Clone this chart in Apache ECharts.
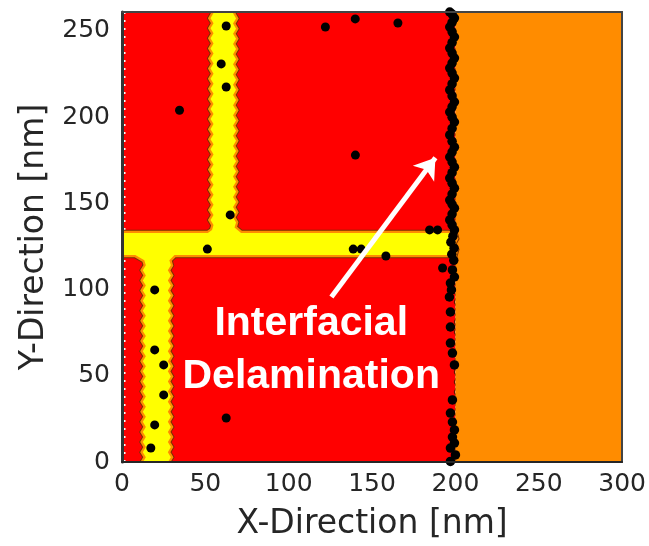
<!DOCTYPE html>
<html><head><meta charset="utf-8">
<script src="https://cdn.jsdelivr.net/npm/echarts@6/dist/echarts.min.js"></script>
<style>html,body{margin:0;padding:0;background:#fff}#c{width:649px;height:546px}</style>
</head><body><div id="c"></div>
<script>
// ---- data ----
const xTicks = [0, 50, 100, 150, 200, 250, 300];
const yTicks = [0, 50, 100, 150, 200, 250];
const xRange = [0, 300];
const yRange = [0, 261];
// phase boundaries along x: film (red) from 0 to 200, substrate (orange) from 200 to 300
const phaseBounds = [0, 200, 300];
const phaseColors = ['#ff0000', '#ff8c00'];
// outline of the grain-boundary (yellow) phase, data coordinates
const grainBoundaryOutline = [
  [54, 275], [54, 134.5], [51.5, 132.8], [-6, 132.8], [-6, 120], [8, 120], [13.4, 117],
  [13.4, -6], [28.4, -6], [28.4, 117], [31.5, 120], [199.5, 120], [199.5, 132.8],
  [71.4, 132.8], [67.5, 136], [67.5, 275]
];
// isolated defect atoms
const defectX = [62.5, 59.5, 62.5, 34.5, 64.9, 51.2, 19.6, 19.6, 25.0, 25.0, 19.6, 17.3, 62.5,
  122.0, 139.9, 165.5, 140.0, 138.7, 143.5, 158.3, 184.5, 189.3, 192.3];
const defectY = [252.9, 230.9, 217.5, 204.0, 143.3, 123.5, 99.8, 65.0, 56.3, 38.9, 21.5, 8.1, 25.5,
  252.3, 257.0, 254.6, 178.0, 123.5, 123.5, 119.5, 134.6, 134.6, 112.5];
// interface atoms along x = 200
const interfaceX = [196.6, 198, 199.4, 198, 196.6, 198, 199.4, 198, 196.6, 198, 199.4, 198, 196.6, 198,
  199.4, 198, 196.6, 198, 199.4, 198, 196.6, 198, 199.4, 198, 196.6, 198, 199.4, 198, 196.6, 198, 199.4,
  198, 196.6, 198, 199.4, 198, 196.6, 198, 199.4, 198, 196.6, 198, 199.4, 198.5, 197.3, 199.2, 197.8,
  199.0, 198.2, 199.4, 197.0, 197.6, 196.4, 197.0, 197.0, 197.0, 198.2, 199.4, 198.2, 197.0, 198.2,
  199.4, 198.2, 199.4, 197.0, 200.0, 197.0];
const interfaceY = [261, 259.8, 257.5, 255, 252.3, 249.5, 246.5, 243.3, 240.1, 237.2, 234.3, 231.4, 228.5,
  225.6, 222.7, 219.3, 215.8, 212.3, 208.8, 206, 203, 200, 197.2, 193.5, 189.7, 186, 182.6, 179.8, 176.9,
  174, 171, 167.8, 164.7, 161.7, 158.8, 155.4, 151.9, 149.5, 147.2, 143.8, 140.4, 137.5, 134.6, 131,
  127.5, 124, 120.5, 117, 111.4, 107.3, 103.8, 99.8, 95.7, 87.0, 78.3, 69.0, 63.2, 56.3, 36.0, 28.4,
  23.2, 18.6, 14.5, 11.0, 8.1, 4.1, 0.3];
const arrowLine = [[125.6, 95.7], [188.0, 176.5]];
const annotationText = 'Interfacial\nDelamination';

// ---- helpers ----
function zigzagPath(pts, period, amp) {
  const out = [];
  for (let i = 0; i < pts.length; i++) {
    const a = pts[i], b = pts[(i + 1) % pts.length];
    out.push(a);
    const dx = b[0] - a[0], dy = b[1] - a[1];
    const len = Math.hypot(dx, dy);
    if (Math.abs(dx) < 0.5 && len > 20) {
      const n = Math.floor(len / (period / 2));
      for (let k = 1; k < n; k++) {
        const t = k / n;
        const off = (k % 2 ? amp : -amp);
        out.push([a[0] + dx * t + off, a[1] + dy * t]);
      }
    }
  }
  return out;
}

const chart = echarts.init(document.getElementById('c'));
const font = 'DejaVu Sans';
const axisCol = '#262626';

const phaseData = phaseBounds.slice(0, -1).map((b, i) => [b, phaseBounds[i + 1], i]);

const option = {
  animation: false,
  grid: { left: 122, right: 20, top: 12, bottom: 82 },
  xAxis: [{
    type: 'value', min: xRange[0], max: xRange[1], interval: 50,
    name: 'X-Direction [nm]', nameLocation: 'middle', nameGap: 46,
    nameTextStyle: { fontFamily: font, fontSize: 33, color: axisCol },
    axisLine: { show: true, onZero: false, lineStyle: { color: axisCol, width: 2 } },
    axisTick: { show: false }, splitLine: { show: false },
    axisLabel: { fontFamily: font, fontSize: 25, color: axisCol, margin: 10,
      formatter: v => xTicks.includes(v) ? String(v) : '' },
    z: 10
  }, {
    type: 'value', position: 'top', min: xRange[0], max: xRange[1],
    axisLine: { show: true, onZero: false, lineStyle: { color: '#444', width: 2 } },
    axisTick: { show: false }, axisLabel: { show: false }, splitLine: { show: false }, z: 10
  }],
  yAxis: [{
    type: 'value', min: yRange[0], max: yRange[1], interval: 50,
    name: 'Y-Direction [nm]', nameLocation: 'middle', nameGap: 62,
    nameTextStyle: { fontFamily: font, fontSize: 33, color: axisCol },
    axisLine: { show: true, onZero: false, lineStyle: { color: '#333', width: 3 } },
    axisTick: { show: false }, splitLine: { show: false },
    axisLabel: { fontFamily: font, fontSize: 25, color: axisCol, margin: 12,
      formatter: v => yTicks.includes(v) ? String(v) : '', showMaxLabel: false },
    z: 10
  }, {
    type: 'value', position: 'right', min: yRange[0], max: yRange[1],
    axisLine: { show: true, onZero: false, lineStyle: { color: '#444', width: 2 } },
    axisTick: { show: false }, axisLabel: { show: false }, splitLine: { show: false }, z: 10
  }],
  series: [
    {
      type: 'custom', clip: true, z: 1,
      data: phaseData,
      renderItem: (params, api) => {
        const p0 = api.coord([api.value(0), yRange[1]]);
        const p1 = api.coord([api.value(1), yRange[0]]);
        const children = [{
          type: 'rect', shape: { x: p0[0], y: p0[1], width: p1[0] - p0[0], height: p1[1] - p0[1] },
          style: { fill: phaseColors[api.value(2)] }
        }];
        if (params.dataIndex === 0) {
          const pts = zigzagPath([[p1[0], p0[1]], [p1[0], p1[1]]], 10, 1.2);
          children.push({ type: 'polyline', shape: { points: pts },
            style: { stroke: '#5a1a00', lineWidth: 1, fill: null } });
          children.push({ type: 'line', shape: { x1: p0[0] + 2.5, y1: p0[1], x2: p0[0] + 2.5, y2: p1[1] },
            style: { stroke: '#ffffff', lineWidth: 2, lineDash: [2, 6] } });
        }
        return { type: 'group', children };
      }
    },
    {
      type: 'custom', clip: true, z: 2,
      data: [0],
      renderItem: (params, api) => {
        const px = grainBoundaryOutline.map(p => api.coord(p));
        const pts = zigzagPath(px, 10, 1.5);
        return {
          type: 'group',
          children: [
            { type: 'polygon', shape: { points: pts }, style: { fill: null, stroke: '#7a2e00', lineWidth: 6.5 } },
            { type: 'polygon', shape: { points: pts }, style: { fill: null, stroke: '#ff8c00', lineWidth: 4.5 } },
            { type: 'polygon', shape: { points: pts }, style: { fill: '#ffff00', stroke: null } }
          ]
        };
      }
    },
    {
      type: 'scatter', z: 5, symbol: 'circle', symbolSize: 9,
      itemStyle: { color: '#000', opacity: 1 },
      data: defectX.map((x, i) => [x, defectY[i]])
    },
    {
      type: 'scatter', z: 5, symbol: 'circle', symbolSize: 9.5,
      itemStyle: { color: '#000', opacity: 1 },
      data: interfaceX.map((x, i) => [x, interfaceY[i]])
    },
    {
      type: 'lines', coordinateSystem: 'cartesian2d', z: 6,
      symbol: ['none', 'arrow'], symbolSize: 20,
      lineStyle: { color: '#ffffff', width: 5, opacity: 1, curveness: 0 },
      data: [{ coords: arrowLine }]
    },
    {
      type: 'custom', z: 7, data: [0],
      renderItem: (params, api) => {
        const p = api.coord([113.5, 64.8]);
        return { type: 'text', x: p[0], y: p[1],
          style: { text: annotationText, fill: '#fff', font: 'bold 41px "Liberation Sans"',
            align: 'center', verticalAlign: 'middle', lineHeight: 53 } };
      }
    }
  ]
};
chart.setOption(option);
</script></body></html>
